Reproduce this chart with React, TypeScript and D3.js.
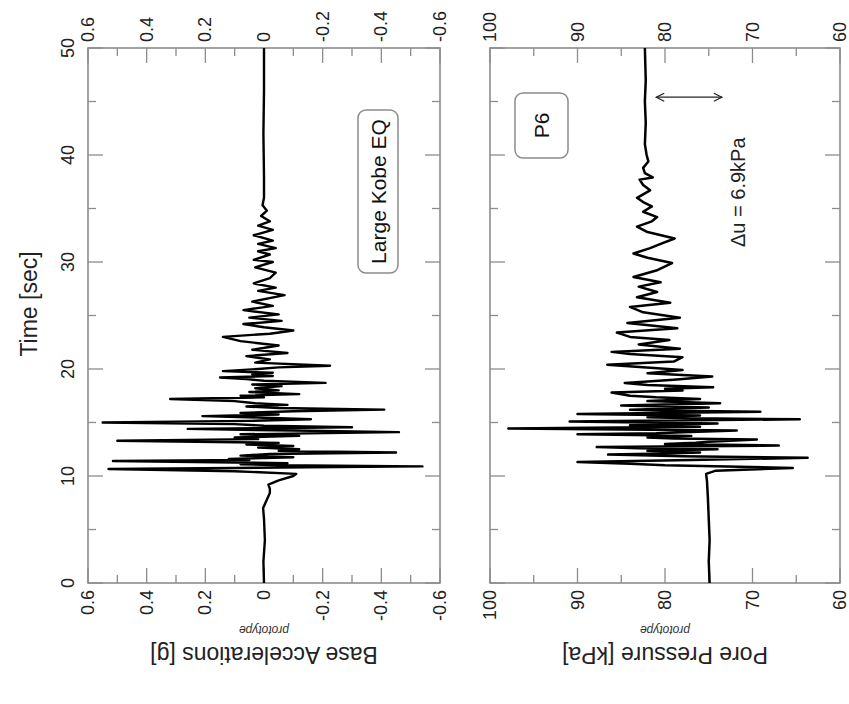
import React from 'react';
import * as d3 from 'd3';

const W = 849;
const H = 704;

// Axis ticks
const timeTicks = [0, 10, 20, 30, 40, 50];
const timeMinor = [5, 15, 25, 35, 45];
const accTicks = [0.6, 0.4, 0.2, 0, -0.2, -0.4, -0.6];
const accMinor = [0.5, 0.3, 0.1, -0.1, -0.3, -0.5];
const ppTicks = [100, 90, 80, 70, 60];
const ppMinor = [95, 85, 75, 65];

// Base acceleration record (prototype scale), time in seconds, value in g
const accTime = [
  0, 2, 4, 6, 7, 7.8, 8.4, 8.8, 9.2, 9.6, 10.0, 10.2, 10.45, 10.65, 10.75, 10.9,
  11.0, 11.1, 11.2, 11.4, 11.5, 11.6, 11.75, 11.9, 12.05, 12.2, 12.35, 12.5,
  12.65, 12.8, 12.95, 13.1, 13.3, 13.45, 13.6, 13.75, 13.9, 14.1, 14.25, 14.4,
  14.55, 14.7, 14.85, 15.0, 15.15, 15.3, 15.45, 15.6, 15.75, 15.9, 16.05, 16.2,
  16.35, 16.5, 16.65, 16.8, 17.0, 17.2, 17.35, 17.5, 17.65, 17.85, 18.0, 18.2,
  18.4, 18.55, 18.7, 18.9, 19.05, 19.2, 19.35, 19.5, 19.65, 19.8, 20.0, 20.15,
  20.3, 20.6, 20.9, 21.2, 21.5, 21.8, 22.2, 22.6, 23.0, 23.3, 23.6, 23.9, 24.2,
  24.5, 24.8, 25.1, 25.5, 25.9, 26.3, 26.9, 27.3, 27.6, 28.0, 28.5, 29.0, 29.5,
  30.0, 30.2, 30.7, 31.0, 31.3, 31.7, 32.0, 32.5, 33.0, 33.4, 33.8, 34.3, 34.8,
  35.3, 36, 38, 42, 46, 50,
];
const accValue = [
  0, 0.002, -0.003, 0, 0.003, -0.01, -0.02, -0.02, -0.015, -0.05, -0.1, -0.11,
  0.1, 0.53, 0.1, -0.54, -0.05, 0.08, -0.08, 0.515, 0.05, 0.12, -0.1, 0.08,
  -0.02, -0.45, -0.05, -0.12, 0.02, -0.1, 0.06, -0.05, 0.5, 0.02, 0.1, -0.12,
  0.08, -0.46, -0.1, 0.26, -0.3, 0.0, 0.1, 0.55, 0.05, -0.16, 0.0, 0.21, -0.05,
  0.08, -0.1, -0.41, -0.05, 0.06, -0.08, 0.03, 0.1, 0.32, 0.0, 0.08, -0.12, 0.05,
  -0.05, 0.03, -0.06, 0.04, -0.21, 0.0, 0.06, 0.15, -0.03, 0.04, -0.03, 0.14,
  0.02, -0.05, -0.225, 0.03, -0.02, 0.06, -0.08, 0.04, -0.05, 0.08, 0.14, -0.02,
  -0.1, 0.0, 0.07, -0.06, 0.05, -0.05, 0.07, -0.03, 0.04, -0.07, 0.02, -0.04,
  0.035, -0.02, -0.04, 0.03, -0.03, 0.035, -0.02, 0.02, -0.04, 0.02, -0.03,
  0.035, -0.03, 0.02, -0.02, 0.01, -0.01, 0.005, 0, 0, 0.002, 0, 0,
];

// Pore pressure at P6, time in seconds, value in kPa
const ppTime = [
  0, 2, 4, 6, 8, 9.5, 10.2, 10.5, 10.75, 11.0, 11.15, 11.3, 11.5, 11.7, 11.85,
  12.0, 12.1, 12.2, 12.35, 12.5, 12.6, 12.7, 12.85, 13.0, 13.1, 13.2, 13.4,
  13.5, 13.6, 13.75, 13.9, 14.0, 14.1, 14.25, 14.45, 14.6, 14.75, 14.9, 15.1,
  15.3, 15.4, 15.5, 15.65, 15.8, 16.0, 16.1, 16.2, 16.4, 16.6, 16.8, 17.0, 17.2,
  17.35, 17.5, 17.8, 18.0, 18.15, 18.3, 18.5, 18.7, 19.0, 19.3, 19.6, 19.9, 20.4,
  20.7, 21.1, 21.4, 21.6, 21.9, 22.3, 22.7, 23.0, 23.4, 23.8, 24.3, 24.8, 25.3,
  25.8, 26.2, 26.7, 27.2, 27.7, 28.1, 28.6, 29.2, 29.9, 30.4, 30.8, 31.3, 31.7,
  32.2, 32.8, 33.3, 33.8, 34.2, 34.7, 35.2, 35.6, 36.0, 36.7, 37.2, 37.7, 37.9,
  38.3, 38.8, 39.4, 40, 41, 43, 45, 47, 50,
];
const ppValue = [
  74.9, 75.0, 74.9, 75.0, 75.1, 75.2, 75.3, 74.2, 65.4, 80.0, 84.0, 90.0, 77.0,
  63.7, 78.0, 86.5, 80.0, 76.0, 82.0, 74.0, 83.0, 87.8, 67.0, 80.0, 76.5, 75.0,
  69.5, 79.0, 82.0, 77.0, 90.0, 81.0, 78.0, 71.8, 97.9, 76.0, 84.0, 74.0, 90.9,
  64.6, 77.0, 82.0, 76.0, 90.0, 69.1, 79.0, 84.0, 75.0, 85.0, 73.7, 82.0, 76.0,
  81.0, 84.0, 86.1, 78.0, 80.0, 74.5, 82.0, 84.6, 79.0, 74.6, 82.0, 78.0, 86.6,
  79.0, 78.0, 84.0, 86.1, 78.3, 83.0, 79.5, 84.0, 85.5, 78.6, 84.3, 78.3, 82.5,
  84.0, 79.4, 83.2, 80.9, 83.0, 80.5, 83.6, 81.0, 79.2, 82.0, 83.6, 81.7, 80.5,
  78.9, 82.0, 83.2, 81.5, 80.9, 82.5, 81.5, 82.5, 83.2, 81.7, 82.5, 82.9, 81.4,
  82.3, 82.5, 81.9, 82.1, 82.3, 82.2, 82.3, 82.2, 82.3,
];

// Δu annotation span (kPa)
const duSpan = [81.0, 73.5];
const duTime = 45.4;

const FONT = "'Liberation Sans', Arial, Helvetica, sans-serif";
const FRAME = '#8c8c8c';

export default function App() {
  // Drawn in a portrait frame (time along x) and turned a quarter turn.
  const x = d3.scaleLinear().domain([0, 50]).range([121, 656]);
  const yAcc = d3.scaleLinear().domain([-0.6, 0.6]).range([440, 88]);
  const yPP = d3.scaleLinear().domain([60, 100]).range([840, 490]);

  const accData: [number, number][] = accTime.map((t, i) => [t, accValue[i]]);
  const ppData: [number, number][] = ppTime.map((t, i) => [t, ppValue[i]]);

  const accLine = d3.line<[number, number]>().x((d) => x(d[0])).y((d) => yAcc(d[1]));
  const ppLine = d3.line<[number, number]>().x((d) => x(d[0])).y((d) => yPP(d[1]));

  const [x0, x1] = x.range();
  const MAJ = 15;
  const MIN = 8;

  const panel = (
    y: d3.ScaleLinear<number, number>,
    major: number[],
    minor: number[],
    key: string
  ) => {
    const [yb, yt] = y.range();
    const els: React.ReactNode[] = [];
    els.push(
      <rect key={key + 'f'} x={x0} y={yt} width={x1 - x0} height={yb - yt}
        fill="none" stroke={FRAME} strokeWidth={1.6} />
    );
    timeTicks.forEach((t) => {
      els.push(<line key={key + 'tt' + t} x1={x(t)} x2={x(t)} y1={yt} y2={yt + MAJ} stroke={FRAME} strokeWidth={1.3} />);
      els.push(<line key={key + 'tb' + t} x1={x(t)} x2={x(t)} y1={yb} y2={yb - MAJ} stroke={FRAME} strokeWidth={1.3} />);
    });
    timeMinor.forEach((t) => {
      els.push(<line key={key + 'mt' + t} x1={x(t)} x2={x(t)} y1={yt} y2={yt + MIN} stroke={FRAME} strokeWidth={1.3} />);
      els.push(<line key={key + 'mb' + t} x1={x(t)} x2={x(t)} y1={yb} y2={yb - MIN} stroke={FRAME} strokeWidth={1.3} />);
    });
    major.forEach((v) => {
      els.push(<line key={key + 'vl' + v} x1={x0} x2={x0 + MAJ} y1={y(v)} y2={y(v)} stroke={FRAME} strokeWidth={1.3} />);
      els.push(<line key={key + 'vr' + v} x1={x1} x2={x1 - MAJ} y1={y(v)} y2={y(v)} stroke={FRAME} strokeWidth={1.3} />);
      els.push(
        <text key={key + 'll' + v} x={114} y={y(v)} textAnchor="end" dominantBaseline="central"
          fontSize={18} fill="#222">{String(v)}</text>
      );
      els.push(
        <text key={key + 'lr' + v} x={662} y={y(v)} textAnchor="start" dominantBaseline="central"
          fontSize={18} fill="#222">{String(v)}</text>
      );
    });
    minor.forEach((v) => {
      els.push(<line key={key + 'nl' + v} x1={x0} x2={x0 + MIN} y1={y(v)} y2={y(v)} stroke={FRAME} strokeWidth={1.3} />);
      els.push(<line key={key + 'nr' + v} x1={x1} x2={x1 - MIN} y1={y(v)} y2={y(v)} stroke={FRAME} strokeWidth={1.3} />);
    });
    return els;
  };

  const accMid = (yAcc.range()[0] + yAcc.range()[1]) / 2;
  const ppMid = (yPP.range()[0] + yPP.range()[1]) / 2;

  const arrowX = x(duTime);
  const aTop = yPP(duSpan[0]);
  const aBot = yPP(duSpan[1]);

  return (
    <svg width={W} height={H} viewBox={`0 0 ${W} ${H}`}
      style={{ position: 'absolute', left: 0, top: 0, background: '#fff' }}
      fontFamily={FONT}>
      <rect width={W} height={H} fill="#fff" />
      <g transform={`translate(0, ${H}) rotate(-90)`}>
        {panel(yAcc, accTicks, accMinor, 'a')}
        {panel(yPP, ppTicks, ppMinor, 'p')}

        {timeTicks.map((t) => (
          <text key={'tl' + t} x={x(t)} y={74} textAnchor="middle" fontSize={18} fill="#222">{t}</text>
        ))}
        <text x={400} y={37} textAnchor="middle" fontSize={23} fill="#222">Time [sec]</text>

        <text transform={`translate(57, ${accMid}) rotate(-90)`} textAnchor="middle" fontSize={23} fill="#222">
          Base Accelerations [g]
        </text>
        <text transform={`translate(78, ${accMid}) rotate(-90)`} textAnchor="middle" fontSize={12}
          fontStyle="italic" fill="#333">prototype</text>
        <text transform={`translate(57, ${ppMid}) rotate(-90)`} textAnchor="middle" fontSize={23} fill="#222">
          Pore Pressure [kPa]
        </text>
        <text transform={`translate(78, ${ppMid}) rotate(-90)`} textAnchor="middle" fontSize={12}
          fontStyle="italic" fill="#333">prototype</text>

        <path d={accLine(accData) ?? ''} fill="none" stroke="#000" strokeWidth={2.4} strokeLinejoin="round" />
        <path d={ppLine(ppData) ?? ''} fill="none" stroke="#000" strokeWidth={2.5} strokeLinejoin="round" />

        {/* legend boxes */}
        <rect x={431} y={358} width={163} height={40} rx={8} fill="#fff" stroke={FRAME} strokeWidth={1.5} />
        <text x={512.5} y={386} textAnchor="middle" fontSize={21} fill="#111">Large Kobe EQ</text>
        <rect x={546} y={515} width={65} height={53} rx={8} fill="#fff" stroke={FRAME} strokeWidth={1.5} />
        <text x={578.5} y={549} textAnchor="middle" fontSize={21} fill="#111">P6</text>

        {/* excess pore pressure marker */}
        <line x1={arrowX} x2={arrowX} y1={aTop} y2={aBot} stroke="#222" strokeWidth={1.2} />
        <path d={`M${arrowX - 4},${aTop + 8} L${arrowX},${aTop} L${arrowX + 4},${aTop + 8}`} fill="none" stroke="#222" strokeWidth={1.2} />
        <path d={`M${arrowX - 4},${aBot - 8} L${arrowX},${aBot} L${arrowX + 4},${aBot - 8}`} fill="none" stroke="#222" strokeWidth={1.2} />
        <text x={457} y={745} fontSize={20} fill="#222">Δu = 6.9kPa</text>
      </g>
    </svg>
  );
}
